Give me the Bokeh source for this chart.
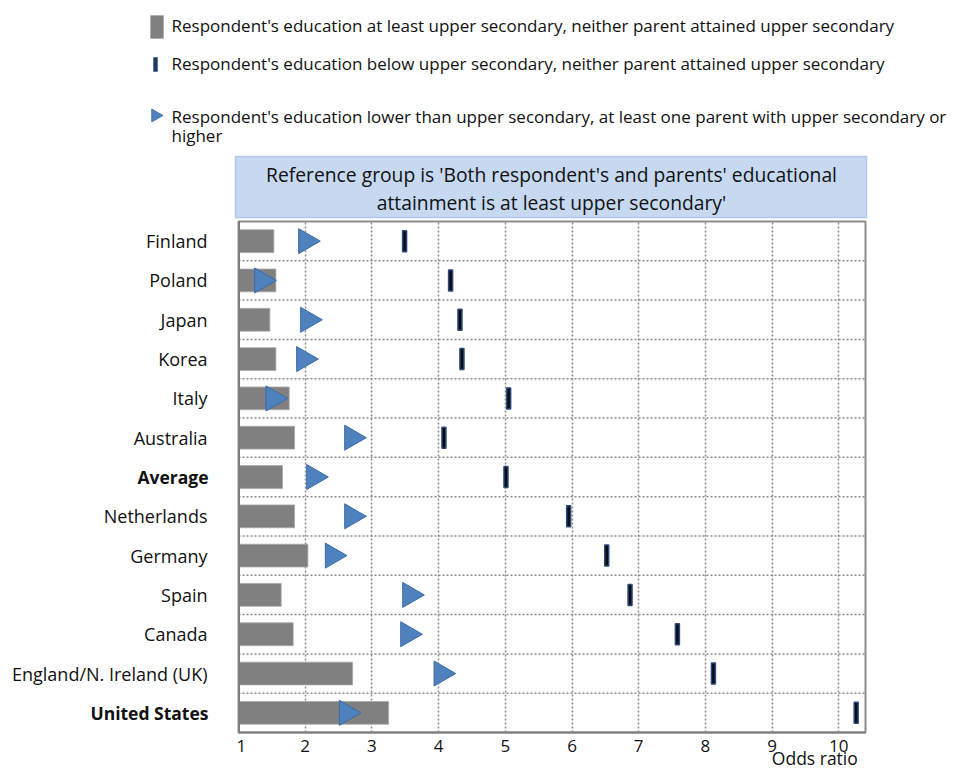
import math
from bokeh.plotting import figure
from bokeh.models import (Range1d, FactorRange, FixedTicker, Span, LinearAxis,
                          ColumnDataSource)
from bokeh.layouts import column, row
from bokeh.embed import file_html
from bokeh.resources import INLINE
from bokeh.core.properties import value

# ---------------- data ----------------
countries = ["Finland", "Poland", "Japan", "Korea", "Italy", "Australia", "Average",
             "Netherlands", "Germany", "Spain", "Canada", "England/N. Ireland (UK)",
             "United States"]
bold_labels = ["Average", "United States"]
# Respondent's education at least upper secondary, neither parent attained upper secondary
upper_no_parent = [1.53, 1.56, 1.47, 1.56, 1.76, 1.84, 1.66, 1.84, 2.04, 1.64, 1.82, 2.71, 3.25]
# Respondent's education below upper secondary, neither parent attained upper secondary
below_no_parent = [3.49, 4.18, 4.32, 4.35, 5.05, 4.08, 5.01, 5.95, 6.52, 6.87, 7.58, 8.12, 10.26]
# Respondent's education lower than upper secondary, at least one parent upper secondary or higher
below_parent = [2.01, 1.35, 2.04, 1.98, 1.52, 2.70, 2.13, 2.70, 2.41, 3.57, 3.54, 4.04, 2.62]
x_ticks = [1, 2, 3, 4, 5, 6, 7, 8, 9, 10]
x_title = "Odds ratio"
x_title_pos = 9.64

legend_texts = [
    "Respondent's education at least upper secondary, neither parent attained upper secondary",
    "Respondent's education below upper secondary, neither parent attained upper secondary",
    "Respondent's education lower than upper secondary, at least one parent with upper secondary or",
    "higher",
]
header_lines = ["Reference group is 'Both respondent's and parents' educational",
                "attainment is at least upper secondary'"]

FONT = "Open Sans"
BAR_COLOR = "#808080"
TRI_FILL = "#4F81BD"
TRI_LINE = "#3B6BAA"
DASH_FILL = "#0b0b12"
DASH_LINE = "#2A4A7C"
TXT = "#111111"
GRID = "#8c8c8c"

W = 952
TOP_H = 219
LBL_W = 236
FRAME_W = 627
BT, BB = 2, 35
FRAME_H = 516
MAIN_H = BT + FRAME_H + BB


def no_align(fig):
    if "frame_align" in fig.properties():
        fig.frame_align = False


# ---------------- top figure (legend + header) ----------------
top = figure(width=W, height=TOP_H, x_range=Range1d(0, W), y_range=Range1d(0, TOP_H),
             output_backend="svg", toolbar_location=None, min_border=0)
top.axis.visible = False
top.grid.visible = False
top.outline_line_color = None
no_align(top)


def Y(y):
    return TOP_H - (y - 1)


top.quad(left=[150], right=[163], top=[Y(16)], bottom=[Y(39)], fill_color=BAR_COLOR,
         line_color="#a0a0a0", line_width=0.5)
top.quad(left=[153], right=[157], top=[Y(58)], bottom=[Y(72)], fill_color="#1F3864",
         line_color=DASH_LINE, line_width=0.5)
top.scatter(x=[155], y=[Y(116)], marker="triangle", size=13, angle=-math.pi / 2,
            fill_color=TRI_FILL, line_color=TRI_LINE, line_width=0.8)

ly = [26, 64, 117, 136]
top.text(x=[171] * 4, y=[Y(v) for v in ly], text=legend_texts,
         text_font=value(FONT), text_font_size="17px", text_color=TXT,
         text_baseline="middle", text_align="left")

top.quad(left=[235], right=[866], top=[Y(157)], bottom=[Y(218)], fill_color="#C6D9F1",
         line_color="#B4C8E6", line_width=1.5)
top.text(x=[551, 551], y=[Y(175), Y(203)], text=header_lines,
         text_font=value(FONT), text_font_size="19.3px", text_color=TXT,
         text_baseline="middle", text_align="center")

# ---------------- shared ranges ----------------
yr = FactorRange(*reversed(countries), range_padding=0)
xr = Range1d(1, 10.4)

# ---------------- category label figure ----------------
lab = figure(width=LBL_W, height=MAIN_H, x_range=Range1d(0, LBL_W), y_range=yr,
             output_backend="svg", toolbar_location=None,
             min_border_left=0, min_border_right=0, min_border_top=BT,
             min_border_bottom=BB)
lab.axis.visible = False
lab.grid.visible = False
lab.outline_line_color = None
normal = [c for c in countries if c not in bold_labels]
lab.text(x=[207] * len(normal), y=normal, text=normal, text_font=value(FONT),
         text_font_size="18px", text_color=TXT, text_align="right",
         text_baseline="middle")
lab.text(x=[208] * len(bold_labels), y=bold_labels, text=bold_labels,
         text_font=value(FONT), text_font_size="17.5px", text_font_style="bold",
         text_color=TXT, text_align="right", text_baseline="middle")

# ---------------- main figure ----------------
p = figure(width=FRAME_W + 4, height=MAIN_H, x_range=xr, y_range=yr,
           output_backend="svg", toolbar_location=None,
           min_border_left=2, min_border_right=2, min_border_top=BT,
           min_border_bottom=BB)

src = ColumnDataSource(dict(country=countries, bar=upper_no_parent,
                            dash=below_no_parent, tri=below_parent,
                            base=[1] * len(countries)))

p.hbar(y="country", left="base", right="bar", height=0.58, source=src,
       fill_color=BAR_COLOR, line_color="#a8a8a8", line_width=0.8)
p.scatter(x="tri", y="country", source=src, marker="triangle", size=25,
          angle=-math.pi / 2, fill_color=TRI_FILL, line_color=TRI_LINE, line_width=1)
p.rect(x="dash", y="country", source=src, width=4, height=21, width_units="screen",
       height_units="screen", fill_color=DASH_FILL, line_color=DASH_LINE, line_width=1.5)

p.xgrid.ticker = FixedTicker(ticks=x_ticks[1:])
p.xgrid.grid_line_color = GRID
p.xgrid.grid_line_dash = "2 2"
p.xgrid.grid_line_width = 1.5
p.ygrid.visible = False
for k in range(1, len(countries)):
    p.add_layout(Span(location=k, dimension="width", line_color=GRID,
                      line_dash="2 2", line_width=1.5, level="underlay"))
p.add_layout(Span(location=1, dimension="height", line_color="#7a7a7a", line_width=3))

p.outline_line_color = GRID
p.outline_line_width = 2
p.yaxis.visible = False

p.xaxis.ticker = FixedTicker(ticks=x_ticks)
p.xaxis.major_label_text_font = FONT
p.xaxis.major_label_text_font_size = "17px"
p.xaxis.major_label_text_color = TXT
p.xaxis.major_tick_out = 0
p.xaxis.major_tick_in = 0
p.xaxis.minor_tick_out = 0
p.xaxis.minor_tick_in = 0
p.xaxis.axis_line_color = "#808080"
p.xaxis.axis_line_width = 2
p.xaxis.major_label_standoff = 7

ax2 = LinearAxis(ticker=FixedTicker(ticks=[x_title_pos]),
                 major_label_overrides={x_title_pos: x_title},
                 axis_line_color=None, major_tick_out=0, major_tick_in=0,
                 minor_tick_out=0, minor_tick_in=0, major_label_standoff=-9,
                 major_label_text_font=FONT, major_label_text_font_size="17.5px",
                 major_label_text_color=TXT)
p.add_layout(ax2, "below")

layout = column(top, row(lab, p, spacing=0), spacing=0)
open("out.html", "w").write(file_html(layout, INLINE))
